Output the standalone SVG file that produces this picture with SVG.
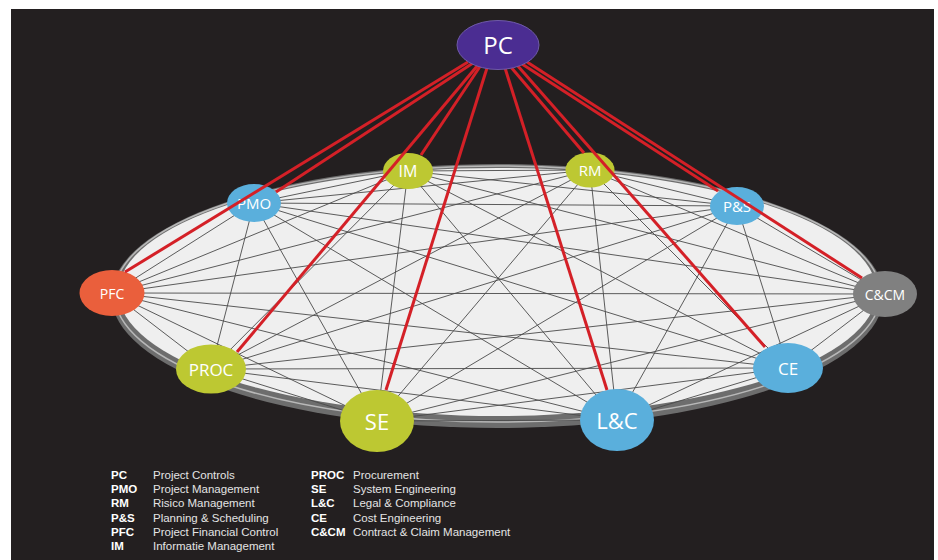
<svg xmlns="http://www.w3.org/2000/svg" width="938" height="560" viewBox="0 0 938 560">
<style>
.lbl{font-family:"Open Sans","Noto Sans","Liberation Sans",sans-serif;fill:#ffffff;text-anchor:middle}
.g{stroke:#4a4a4a;stroke-width:0.9;fill:none}
.r{stroke:#d42027;stroke-width:3;fill:none}
.blue{fill:#5aafdc}
.green{fill:#bdc832}
.lg{font-family:"Liberation Sans",Arial,sans-serif;font-size:11.5px;fill:#e4e4e4}
.lgb{font-family:"Liberation Sans",Arial,sans-serif;font-size:11.5px;font-weight:bold;fill:#ffffff}
</style>
<rect x="0" y="0" width="938" height="560" fill="#ffffff"/>
<rect x="11" y="9" width="923" height="551" fill="#231f20"/>
<g id="ring">
<ellipse cx="497.5" cy="296" rx="386" ry="132" fill="#6d6d6d"/>
<ellipse cx="497.5" cy="294" rx="383" ry="128" fill="none" stroke="#b8b8b8" stroke-width="1.5"/>
<ellipse cx="497.5" cy="292" rx="379" ry="124" fill="#efefef"/>
</g>
<g id="connectors">
<g id="grey-links">
<line class="g" x1="408" y1="171" x2="590" y2="170"/>
<line class="g" x1="408" y1="171" x2="254" y2="203"/>
<line class="g" x1="408" y1="171" x2="737" y2="206"/>
<line class="g" x1="408" y1="171" x2="112" y2="293"/>
<line class="g" x1="408" y1="171" x2="885" y2="294"/>
<line class="g" x1="408" y1="171" x2="211" y2="369"/>
<line class="g" x1="408" y1="171" x2="788" y2="368"/>
<line class="g" x1="408" y1="171" x2="377" y2="421"/>
<line class="g" x1="408" y1="171" x2="617" y2="420"/>
<line class="g" x1="590" y1="170" x2="254" y2="203"/>
<line class="g" x1="590" y1="170" x2="737" y2="206"/>
<line class="g" x1="590" y1="170" x2="112" y2="293"/>
<line class="g" x1="590" y1="170" x2="885" y2="294"/>
<line class="g" x1="590" y1="170" x2="211" y2="369"/>
<line class="g" x1="590" y1="170" x2="788" y2="368"/>
<line class="g" x1="590" y1="170" x2="377" y2="421"/>
<line class="g" x1="590" y1="170" x2="617" y2="420"/>
<line class="g" x1="254" y1="203" x2="737" y2="206"/>
<line class="g" x1="254" y1="203" x2="112" y2="293"/>
<line class="g" x1="254" y1="203" x2="885" y2="294"/>
<line class="g" x1="254" y1="203" x2="211" y2="369"/>
<line class="g" x1="254" y1="203" x2="788" y2="368"/>
<line class="g" x1="254" y1="203" x2="377" y2="421"/>
<line class="g" x1="254" y1="203" x2="617" y2="420"/>
<line class="g" x1="737" y1="206" x2="112" y2="293"/>
<line class="g" x1="737" y1="206" x2="885" y2="294"/>
<line class="g" x1="737" y1="206" x2="211" y2="369"/>
<line class="g" x1="737" y1="206" x2="788" y2="368"/>
<line class="g" x1="737" y1="206" x2="377" y2="421"/>
<line class="g" x1="737" y1="206" x2="617" y2="420"/>
<line class="g" x1="112" y1="293" x2="885" y2="294"/>
<line class="g" x1="112" y1="293" x2="211" y2="369"/>
<line class="g" x1="112" y1="293" x2="788" y2="368"/>
<line class="g" x1="112" y1="293" x2="377" y2="421"/>
<line class="g" x1="112" y1="293" x2="617" y2="420"/>
<line class="g" x1="885" y1="294" x2="211" y2="369"/>
<line class="g" x1="885" y1="294" x2="788" y2="368"/>
<line class="g" x1="885" y1="294" x2="377" y2="421"/>
<line class="g" x1="885" y1="294" x2="617" y2="420"/>
<line class="g" x1="211" y1="369" x2="788" y2="368"/>
<line class="g" x1="211" y1="369" x2="377" y2="421"/>
<line class="g" x1="211" y1="369" x2="617" y2="420"/>
<line class="g" x1="788" y1="368" x2="377" y2="421"/>
<line class="g" x1="788" y1="368" x2="617" y2="420"/>
<line class="g" x1="377" y1="421" x2="617" y2="420"/>
</g>
</g>
<g id="node-IM"><ellipse class="green" cx="408" cy="171" rx="25" ry="18"/><text class="lbl" x="408" y="177" font-size="16">IM</text></g>
<g id="node-RM"><ellipse class="green" cx="590" cy="170" rx="24.5" ry="17.5"/><text class="lbl" x="590" y="175.5" font-size="15">RM</text></g>
<g id="node-PMO"><ellipse class="blue" cx="254" cy="203" rx="27" ry="19"/><text class="lbl" x="254" y="209" font-size="15">PMO</text></g>
<g id="node-PS"><ellipse class="blue" cx="737" cy="206" rx="27" ry="19"/><text class="lbl" x="737" y="212" font-size="15">P&amp;S</text></g>
<g id="node-PFC"><ellipse cx="112" cy="293" rx="32.5" ry="23" fill="#ea5f3c"/><text class="lbl" x="112" y="298.5" font-size="14">PFC</text></g>
<g id="node-CCM"><ellipse cx="885" cy="294" rx="32" ry="23" fill="#808080"/><text class="lbl" x="885" y="299.5" font-size="14">C&amp;CM</text></g>
<g id="node-PROC"><ellipse class="green" cx="211" cy="369" rx="35" ry="24.5"/><text class="lbl" x="211" y="375.5" font-size="17">PROC</text></g>
<g id="node-CE"><ellipse class="blue" cx="788" cy="368" rx="35" ry="25"/><text class="lbl" x="788" y="375" font-size="17">CE</text></g>
<g id="node-SE"><ellipse class="green" cx="377" cy="421" rx="37" ry="31"/><text class="lbl" x="377" y="429.5" font-size="22">SE</text></g>
<g id="node-LC"><ellipse class="blue" cx="617" cy="420" rx="37" ry="31"/><text class="lbl" x="617" y="429" font-size="22">L&amp;C</text></g>
<g id="pc-links">
<line class="r" x1="468" y1="62" x2="125" y2="272"/>
<line class="r" x1="473" y1="63" x2="276" y2="192"/>
<line class="r" x1="478" y1="65" x2="237" y2="352"/>
<line class="r" x1="481" y1="65" x2="421" y2="155"/>
<line class="r" x1="487" y1="68" x2="386" y2="390"/>
<line class="r" x1="505" y1="68" x2="607" y2="390"/>
<line class="r" x1="510" y1="66" x2="584" y2="153"/>
<line class="r" x1="517" y1="65" x2="765" y2="347"/>
<line class="r" x1="522" y1="64" x2="718" y2="191"/>
<line class="r" x1="527" y1="62" x2="862" y2="278"/>
</g>
<g id="node-PC"><ellipse cx="498" cy="45" rx="41" ry="24.5" fill="#4b2d92" stroke="#6f5aa8" stroke-width="1"/><text class="lbl" x="498" y="54" font-size="24">PC</text></g>
<g id="legend">
<text class="lgb" x="111" y="479">PC</text><text class="lg" x="153" y="479">Project Controls</text>
<text class="lgb" x="111" y="493.2">PMO</text><text class="lg" x="153" y="493.2">Project Management</text>
<text class="lgb" x="111" y="507.4">RM</text><text class="lg" x="153" y="507.4">Risico Management</text>
<text class="lgb" x="111" y="521.6">P&amp;S</text><text class="lg" x="153" y="521.6">Planning &amp; Scheduling</text>
<text class="lgb" x="111" y="535.8">PFC</text><text class="lg" x="153" y="535.8">Project Financial Control</text>
<text class="lgb" x="111" y="550">IM</text><text class="lg" x="153" y="550">Informatie Management</text>
<text class="lgb" x="311" y="479">PROC</text><text class="lg" x="353" y="479">Procurement</text>
<text class="lgb" x="311" y="493.2">SE</text><text class="lg" x="353" y="493.2">System Engineering</text>
<text class="lgb" x="311" y="507.4">L&amp;C</text><text class="lg" x="353" y="507.4">Legal &amp; Compliance</text>
<text class="lgb" x="311" y="521.6">CE</text><text class="lg" x="353" y="521.6">Cost Engineering</text>
<text class="lgb" x="311" y="535.8">C&amp;CM</text><text class="lg" x="353" y="535.8">Contract &amp; Claim Management</text>
</g>
</svg>
